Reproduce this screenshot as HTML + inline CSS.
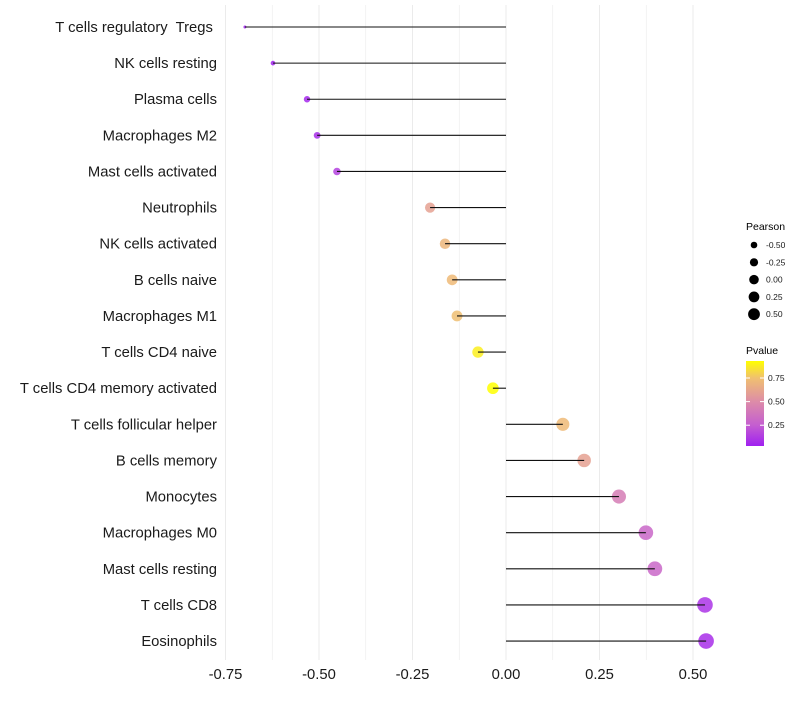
<!DOCTYPE html>
<html><head><meta charset="utf-8"><style>
body{margin:0;background:#fff;font-family:"Liberation Sans",sans-serif;}
text{white-space:pre;}
</style></head><body>
<svg id="chart" width="800" height="700" xmlns="http://www.w3.org/2000/svg">
<rect width="800" height="700" fill="#fff"/>
<g id="grid"></g>
<g id="marks"></g>
<g id="axes"></g>
<g id="legend"></g>
</svg>
<script>
const categories=["T cells regulatory  Tregs ","NK cells resting","Plasma cells","Macrophages M2","Mast cells activated","Neutrophils","NK cells activated","B cells naive","Macrophages M1","T cells CD4 naive","T cells CD4 memory activated","T cells follicular helper","B cells memory","Monocytes","Macrophages M0","Mast cells resting","T cells CD8","Eosinophils"];
const pearson=[-0.698,-0.623,-0.532,-0.505,-0.452,-0.203,-0.163,-0.144,-0.131,-0.075,-0.035,0.152,0.209,0.302,0.374,0.398,0.532,0.535];
const pvalue=[0.02,0.04,0.06,0.08,0.15,0.6,0.7,0.72,0.74,0.88,0.95,0.72,0.6,0.42,0.3,0.3,0.1,0.08];
const xTicks=[-0.75,-0.5,-0.25,0,0.25,0.5];
const xTickLabels=["-0.75","-0.50","-0.25","0.00","0.25","0.50"];
const sizeLegend=[-0.5,-0.25,0,0.25,0.5];
const sizeLegendLabels=["-0.50","-0.25","0.00","0.25","0.50"];
const colorTicks=[0.25,0.5,0.75];
const colorTickLabels=["0.25","0.50","0.75"];
const NS="http://www.w3.org/2000/svg";
const X=v=>506+374*v;
const Y=i=>27+i*36.12;
const R=v=>Math.sqrt(Math.max(1,2.25+(v+0.698)/1.233*52))*(v>-0.6?1.06:1);
const LR=v=>Math.sqrt(Math.max(1,31.6+32.9*v))*0.85;
const stops=[[0.03,[160,32,240]],[0.25,[196,94,208]],[0.5,[221,140,168]],[0.75,[240,192,112]],[0.93,[255,255,0]]];
function col(p){if(p<=stops[0][0])return "rgb("+stops[0][1]+")";for(let i=1;i<stops.length;i++){if(p<=stops[i][0]){const a=stops[i-1],b=stops[i],t=(p-a[0])/(b[0]-a[0]);return "rgb("+a[1].map((c,k)=>Math.round(c+(b[1][k]-c)*t)).join(",")+")";}}return "rgb("+stops[stops.length-1][1]+")";}
function el(t,a,p){const e=document.createElementNS(NS,t);for(const k in a)e.setAttribute(k,a[k]);p.appendChild(e);return e;}
const grid=document.getElementById('grid'),marks=document.getElementById('marks'),axes=document.getElementById('axes'),legend=document.getElementById('legend');
for(let v=-0.75;v<=0.6;v+=0.125){const g=el('line',{x1:X(v),x2:X(v),y1:5,y2:660,stroke:'#ebebeb','stroke-width':Math.abs((v/0.25)%1)<0.01?1:0.6},grid);

}
categories.forEach((c,i)=>{
const pt=el('circle',{cx:X(pearson[i]),cy:Y(i),r:R(pearson[i]),fill:col(pvalue[i]),'fill-opacity':0.85},marks);


const ln=el('line',{x1:X(0),x2:X(pearson[i]),y1:Y(i),y2:Y(i),stroke:'#111','stroke-width':1.1},marks);


const t=el('text',{x:217,y:Y(i)+5,'text-anchor':'end','font-size':14.8,fill:'#1a1a1a'},axes);t.textContent=c;


});
xTicks.forEach((v,i)=>{const t=el('text',{x:X(v),y:679,'text-anchor':'middle','font-size':14.8,fill:'#1a1a1a'},axes);t.textContent=xTickLabels[i];

});
let t=el('text',{x:746,y:230,'font-size':10.5,fill:'#000'},legend);t.textContent='Pearson';


sizeLegend.forEach((v,i)=>{const y=245+i*17.3;
const c=el('circle',{cx:754,cy:y,r:LR(v),fill:'#000'},legend);


const s=el('text',{x:766,y:y+3,'font-size':8.5,fill:'#1a1a1a'},legend);s.textContent=sizeLegendLabels[i];

});
t=el('text',{x:746,y:354,'font-size':10.5,fill:'#000'},legend);t.textContent='Pvalue';


const defs=el('defs',{},legend);const lg=el('linearGradient',{id:'cb',x1:0,y1:1,x2:0,y2:0},defs);
stops.forEach(s=>el('stop',{offset:(s[0]-0.03)/0.9,'stop-color':"rgb("+s[1]+")"},lg));
const P=p=>446-(p-0.03)/0.9*85;
const cb=el('rect',{x:746,y:361,width:18,height:85,fill:'url(#cb)'},legend);


colorTicks.forEach((v,i)=>{el('line',{x1:746,x2:750,y1:P(v),y2:P(v),stroke:'#fff'},legend);el('line',{x1:760,x2:764,y1:P(v),y2:P(v),stroke:'#fff'},legend);
const s=el('text',{x:768,y:P(v)+3,'font-size':8.5,fill:'#1a1a1a'},legend);s.textContent=colorTickLabels[i];

});
</script>
</body></html>
